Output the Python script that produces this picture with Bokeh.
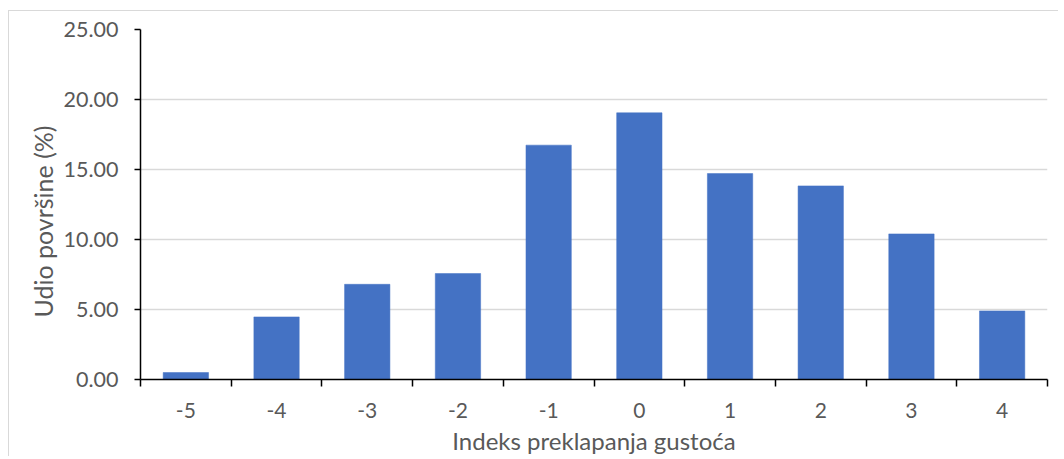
from bokeh.plotting import figure
from bokeh.models import FixedTicker, NumeralTickFormatter, Range1d, ColumnDataSource, Title
from bokeh.embed import file_html
from bokeh.resources import INLINE

categories = ["-5", "-4", "-3", "-2", "-1", "0", "1", "2", "3", "4"]
values = [0.50, 4.47, 6.80, 7.57, 16.74, 19.05, 14.71, 13.83, 10.40, 4.90]
y_ticks = [0, 5, 10, 15, 20, 25]

n = len(categories)
centers = [i + 0.5 for i in range(n)]
bounds = list(range(n + 1))

src = ColumnDataSource(dict(x=centers, top=values, cat=categories))

p = figure(width=1050, height=446, output_backend="svg", toolbar_location=None,
           x_range=Range1d(0, n), y_range=Range1d(0, 25),
           min_border_left=131, min_border_right=12, min_border_top=18, min_border_bottom=78)
p.styles = {"margin-left": "8px", "margin-top": "10px",
            "border-left": "1px solid #d9d9d9", "border-top": "1px solid #d9d9d9"}
p.outline_line_color = None
p.background_fill_color = "white"
p.border_fill_color = "white"

p.vbar(x="x", top="top", width=0.5, source=src, fill_color="#4472C4", line_color="#4472C4", line_width=0.5)

font = "Lato"
grey = "#595959"

# x axis
xa = p.xaxis[0]
xa.ticker = FixedTicker(ticks=centers, minor_ticks=bounds)
xa.major_label_overrides = {c: lab for c, lab in zip(centers, categories)}
xa.major_tick_out = 0
xa.major_tick_in = 0
xa.minor_tick_out = 7
xa.minor_tick_in = 0
xa.minor_tick_line_color = "black"
xa.minor_tick_line_width = 1.5
xa.axis_line_color = "black"
xa.axis_line_width = 1.5
xa.major_label_text_font = font
xa.major_label_text_font_size = "21px"
xa.major_label_text_color = grey
xa.major_label_standoff = 16
xa.axis_label = "Indeks preklapanja gustoća"
xa.axis_label_text_font = font
xa.axis_label_text_font_size = "24px"
xa.axis_label_text_font_style = "normal"
xa.axis_label_text_color = grey
xa.axis_label_standoff = 5

# y axis
ya = p.yaxis[0]
ya.ticker = FixedTicker(ticks=y_ticks)
ya.formatter = NumeralTickFormatter(format="0.00")
ya.major_tick_out = 6
ya.major_tick_in = 0
ya.minor_tick_out = 0
ya.minor_tick_in = 0
ya.major_tick_line_color = "black"
ya.major_tick_line_width = 1.5
ya.axis_line_color = "black"
ya.axis_line_width = 1.5
ya.major_label_text_font = font
ya.major_label_text_font_size = "21.5px"
ya.major_label_text_color = grey
ya.major_label_standoff = 16

ytitle = Title(text="Udio površine (%)", align="left", offset=62,
               text_font=font, text_font_size="25px", text_font_style="normal",
               text_color=grey, standoff=6)
p.add_layout(ytitle, "left")

p.xgrid.visible = False
p.ygrid.ticker = FixedTicker(ticks=y_ticks)
p.ygrid.grid_line_color = "#d9d9d9"
p.ygrid.grid_line_width = 1.5

open("out.html", "w").write(file_html(p, INLINE))
